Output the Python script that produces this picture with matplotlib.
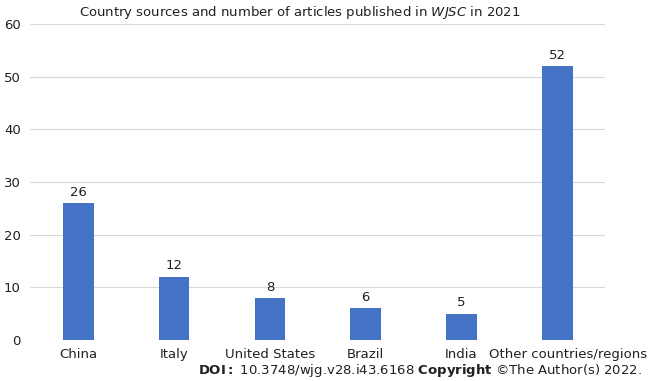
import numpy as np
import matplotlib
matplotlib.use('Agg')
import matplotlib.pyplot as plt
import matplotlib.transforms as mtransforms

plt.rcParams['font.family'] = 'DejaVu Sans'
plt.rcParams['mathtext.fontset'] = 'dejavusans'

# Data
countries = ['China', 'Italy', 'United States', 'Brazil', 'India', 'Other countries/regions']
articles = [26, 12, 8, 6, 5, 52]

fig = plt.figure(figsize=(6.48, 3.81), dpi=100)
ax = fig.add_axes([0.047, 0.108, 0.887, 0.829])

x = np.arange(len(countries))
ax.bar(x, articles, width=0.32, color='#4472C4', zorder=3)
for xi, v in zip(x, articles):
    ax.text(xi, v + 0.8, str(v), ha='center', va='bottom', fontsize=9.5, color='#202020')

ax.set_xlim(-0.5, len(countries) - 0.5)
ax.set_ylim(0, 60)
ax.set_yticks(np.arange(0, 61, 10))
ax.set_xticks(x)
ax.set_xticklabels(countries)
ax.tick_params(axis='both', length=0, labelsize=9.5, colors='#202020')
ax.tick_params(axis='y', pad=7)
ax.tick_params(axis='x', pad=6)
ax.grid(axis='y', color='#D9D9D9', linewidth=0.8, zorder=0)
for s in ax.spines.values():
    s.set_visible(False)

# last label sits a bit to the right in the original
last = ax.get_xticklabels()[-1]
last.set_transform(last.get_transform() + mtransforms.ScaledTranslation(8 / 72, 0, fig.dpi_scale_trans))

fig.text(0.463, 0.968, r'Country sources and number of articles published in $\it{WJSC}$ in 2021',
         ha='center', va='center', fontsize=9.5, color='#202020')
fig.text(0.99, 0.028, r'$\bf{DOI:}$ 10.3748/wjg.v28.i43.6168 $\bf{Copyright}$ ©The Author(s) 2022.',
         ha='right', va='center', fontsize=9.5, color='#202020')

plt.savefig('out.png', dpi=100)
